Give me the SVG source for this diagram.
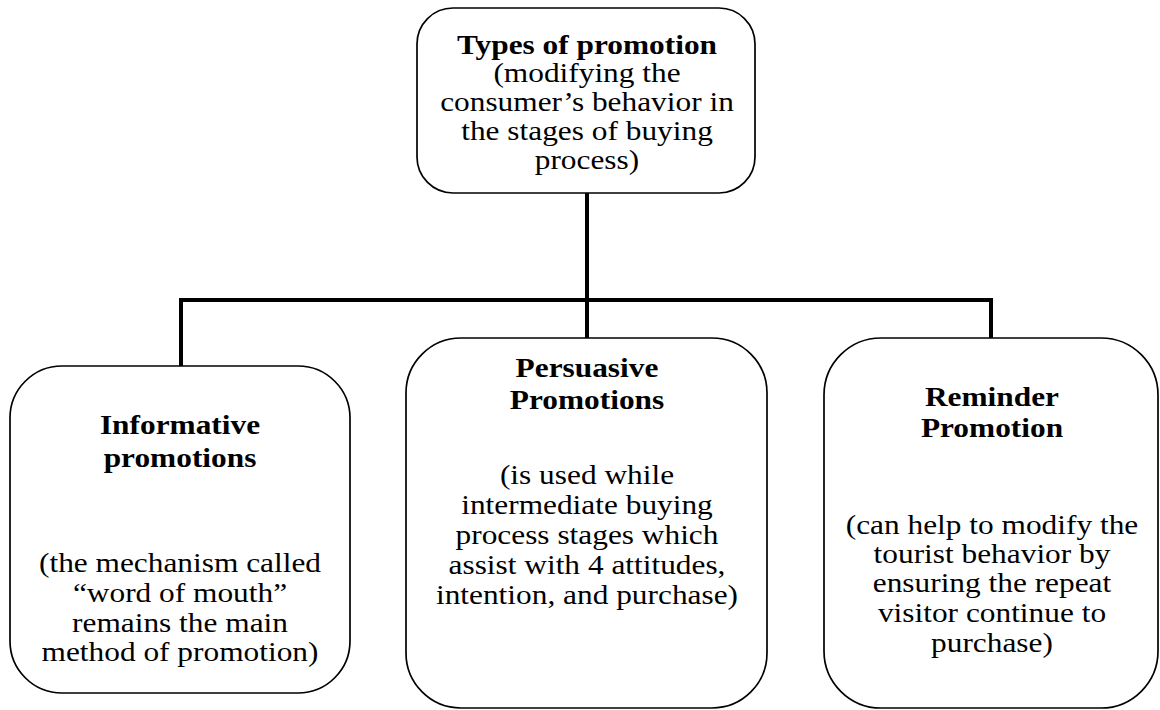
<svg xmlns="http://www.w3.org/2000/svg" width="1160" height="710" viewBox="0 0 1160 710">
<style>
.box{fill:#fff;stroke:#000;stroke-width:1.7}
.t{font-family:"Liberation Serif","Times New Roman",serif;font-size:28px;fill:#000;text-anchor:middle}
.b{font-weight:bold}
.conn{fill:none;stroke:#000;stroke-width:4;stroke-linecap:square}
</style>
<rect width="1160" height="710" fill="#fff"/>
<g id="connectors">
<line class="conn" x1="587" y1="194" x2="587" y2="300"/>
<line class="conn" x1="181" y1="300" x2="991" y2="300"/>
<line class="conn" x1="181" y1="300" x2="181" y2="365"/>
<line class="conn" x1="587" y1="300" x2="587" y2="337"/>
<line class="conn" x1="991" y1="300" x2="991" y2="337"/>
</g>
<g id="top">
<rect class="box" x="417" y="8" width="338" height="185" rx="36"/>
<g transform="translate(587 0) scale(1.12 1) translate(-587 0)">
<text class="t b" x="587" y="54">Types of promotion</text>
<text class="t" x="587" y="82">(modifying the</text>
<text class="t" x="587" y="111">consumer’s behavior in</text>
<text class="t" x="587" y="140">the stages of buying</text>
<text class="t" x="587" y="169">process)</text>
</g>
</g>
<g id="informative">
<rect class="box" x="10" y="366" width="340" height="327" rx="52"/>
<g transform="translate(180 0) scale(1.12 1) translate(-180 0)">
<text class="t b" x="180" y="434">Informative</text>
<text class="t b" x="180" y="467">promotions</text>
<text class="t" x="180" y="572">(the mechanism called</text>
<text class="t" x="180" y="602">“word of mouth”</text>
<text class="t" x="180" y="632">remains the main</text>
<text class="t" x="180" y="661">method of promotion)</text>
</g>
</g>
<g id="persuasive">
<rect class="box" x="406" y="338" width="361" height="370" rx="55"/>
<g transform="translate(587 0) scale(1.12 1) translate(-587 0)">
<text class="t b" x="587" y="377">Persuasive</text>
<text class="t b" x="587" y="409">Promotions</text>
<text class="t" x="587" y="484">(is used while</text>
<text class="t" x="587" y="514">intermediate buying</text>
<text class="t" x="587" y="544">process stages which</text>
<text class="t" x="587" y="574">assist with 4 attitudes,</text>
<text class="t" x="587" y="604">intention, and purchase)</text>
</g>
</g>
<g id="reminder">
<rect class="box" x="824" y="338" width="334" height="370" rx="57"/>
<g transform="translate(992 0) scale(1.12 1) translate(-992 0)">
<text class="t b" x="992" y="406">Reminder</text>
<text class="t b" x="992" y="437">Promotion</text>
<text class="t" x="992" y="534">(can help to modify the</text>
<text class="t" x="992" y="563">tourist behavior by</text>
<text class="t" x="992" y="592">ensuring the repeat</text>
<text class="t" x="992" y="622">visitor continue to</text>
<text class="t" x="992" y="652">purchase)</text>
</g>
</g>
</svg>
